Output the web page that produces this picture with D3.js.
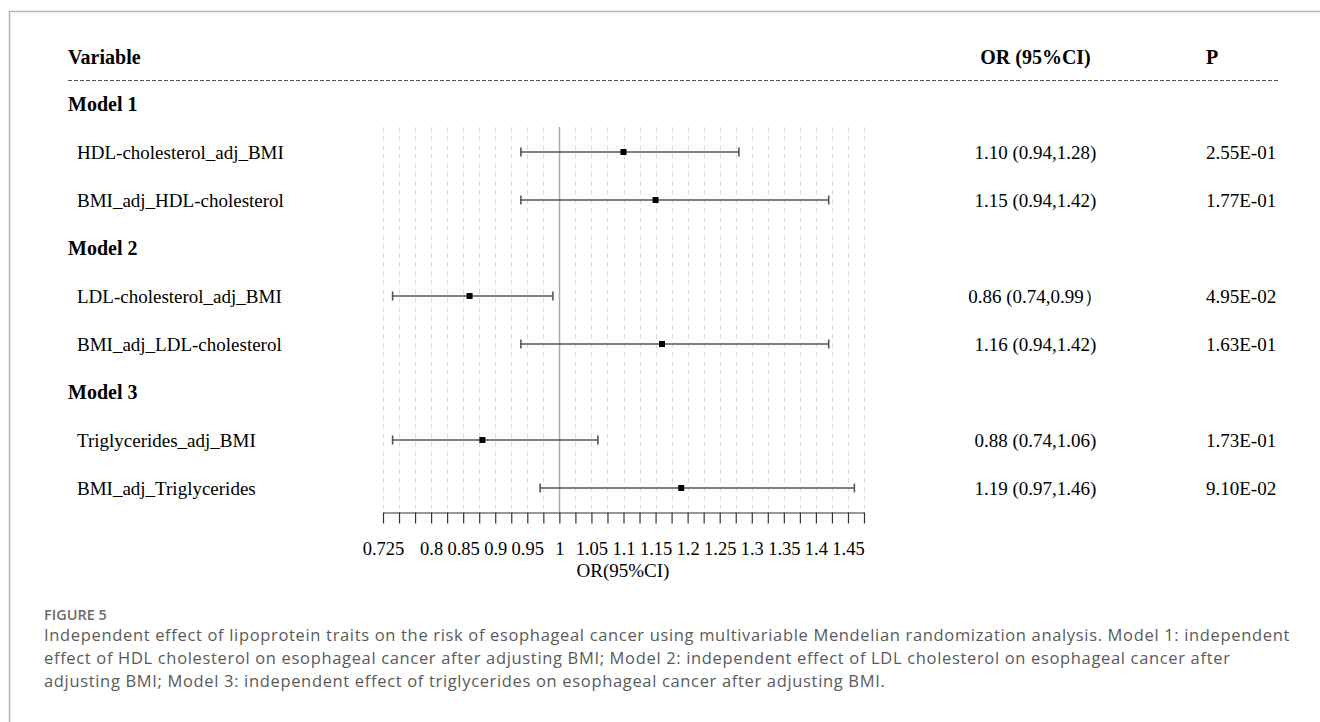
<!DOCTYPE html>
<html>
<head>
<meta charset="utf-8">
<script src="https://cdn.jsdelivr.net/npm/d3@7"></script>
<style>
  html, body { margin: 0; padding: 0; background: #fff; }
  svg { display: block; }
</style>
</head>
<body>
<svg id="chart" width="1320" height="722"></svg>
<script>
// Forest plot data: three models, two exposures each
const models = ["Model 1", "Model 2", "Model 3"];
const variables = [
  "HDL-cholesterol_adj_BMI", "BMI_adj_HDL-cholesterol",
  "LDL-cholesterol_adj_BMI", "BMI_adj_LDL-cholesterol",
  "Triglycerides_adj_BMI", "BMI_adj_Triglycerides"
];
const modelOf = [0, 0, 1, 1, 2, 2];
const oddsRatio = [1.10, 1.15, 0.86, 1.16, 0.88, 1.19];
const lowerCI   = [0.94, 0.94, 0.74, 0.94, 0.74, 0.97];
const upperCI   = [1.28, 1.42, 0.99, 1.42, 1.06, 1.46];
const orText = [
  "1.10 (0.94,1.28)", "1.15 (0.94,1.42)",
  "0.86 (0.74,0.99\uFF09", "1.16 (0.94,1.42)",
  "0.88 (0.74,1.06)", "1.19 (0.97,1.46)"
];
const pText = ["2.55E-01", "1.77E-01", "4.95E-02", "1.63E-01", "1.73E-01", "9.10E-02"];

// Axis ticks every 0.025; only some carry a label
const tickValues = d3.range(0, 31).map(i => +(0.725 + i * 0.025).toFixed(3));
const tickLabels = ["0.725", "0.8", "0.85", "0.9", "0.95", "1", "1.05", "1.1",
  "1.15", "1.2", "1.25", "1.3", "1.35", "1.4", "1.45"];

const captionTitle = "FIGURE 5";
const captionLines = [
  "Independent effect of lipoprotein traits on the risk of esophageal cancer using multivariable Mendelian randomization analysis. Model 1: independent",
  "effect of HDL cholesterol on esophageal cancer after adjusting BMI; Model 2: independent effect of LDL cholesterol on esophageal cancer after",
  "adjusting BMI; Model 3: independent effect of triglycerides on esophageal cancer after adjusting BMI."
];

const serif = "'Liberation Serif', 'Times New Roman', serif";
const svg = d3.select("#chart");

// Page frame (top and left rules)
svg.append("path")
  .attr("d", "M9.5,722 V11.5 H1320")
  .attr("fill", "none").attr("stroke", "#b4b4b4").attr("stroke-width", 1.5);

// Build the row list: a model heading followed by its variables
const rows = [];
models.forEach((m, mi) => {
  rows.push({ kind: "model", text: m });
  variables.forEach((v, i) => { if (modelOf[i] === mi) rows.push({ kind: "var", i }); });
});

const y = d3.scalePoint().domain(d3.range(rows.length)).range([104, 488]);
const x = d3.scaleLinear().domain([0.725, 1.475]).range([383, 864]);

const colOR = 1035.5, colP = 1206;

// Header
const header = svg.append("g").attr("font-family", serif).attr("font-weight", "bold")
  .attr("font-size", 20).attr("fill", "#000");
header.append("text").attr("x", 68).attr("y", 64).text("Variable");
header.append("text").attr("x", colOR).attr("y", 64).attr("text-anchor", "middle").text("OR (95%CI)");
header.append("text").attr("x", colP).attr("y", 64).text("P");

svg.append("line")
  .attr("x1", 68).attr("x2", 1278).attr("y1", 80.5).attr("y2", 80.5)
  .attr("stroke", "#555").attr("stroke-width", 1).attr("stroke-dasharray", "4,2");

// Grid lines at every tick
const gridTop = 127, axisY = 512.5;
svg.append("g").selectAll("line").data(tickValues).join("line")
  .attr("x1", d => Math.round(x(d)) + 0.5).attr("x2", d => Math.round(x(d)) + 0.5)
  .attr("y1", gridTop).attr("y2", axisY - 4)
  .attr("stroke", "#dcdcdc").attr("stroke-width", 1).attr("stroke-dasharray", "5,4");

// Reference line at OR = 1
svg.append("line")
  .attr("x1", Math.round(x(1)) + 0.5).attr("x2", Math.round(x(1)) + 0.5)
  .attr("y1", gridTop).attr("y2", axisY)
  .attr("stroke", "#a8a8a8").attr("stroke-width", 1.5);

// Row texts
const rowG = svg.append("g").attr("font-family", serif).attr("fill", "#000");
rows.forEach((r, k) => {
  const cy = y(k);
  if (r.kind === "model") {
    rowG.append("text").attr("x", 68).attr("y", cy + 7)
      .attr("font-size", 20).attr("font-weight", "bold").text(r.text);
  } else {
    rowG.append("text").attr("x", 77).attr("y", cy + 6.5).attr("font-size", 19).text(variables[r.i]);
    rowG.append("text").attr("x", colOR).attr("y", cy + 6.5).attr("font-size", 19)
      .attr("text-anchor", "middle").text(orText[r.i]);
    rowG.append("text").attr("x", colP).attr("y", cy + 6.5).attr("font-size", 19).text(pText[r.i]);
  }
});

// Confidence intervals and point estimates
const ciRows = rows.map((r, k) => ({ ...r, k })).filter(r => r.kind === "var");
const ci = svg.append("g");
ci.selectAll("line.ci").data(ciRows).join("line").attr("class", "ci")
  .attr("x1", d => x(lowerCI[d.i])).attr("x2", d => x(upperCI[d.i]))
  .attr("y1", d => y(d.k)).attr("y2", d => y(d.k))
  .attr("stroke", "#555").attr("stroke-width", 1.6);
ci.selectAll("line.capl").data(ciRows).join("line").attr("class", "capl")
  .attr("x1", d => x(lowerCI[d.i])).attr("x2", d => x(lowerCI[d.i]))
  .attr("y1", d => y(d.k) - 4.5).attr("y2", d => y(d.k) + 4.5)
  .attr("stroke", "#555").attr("stroke-width", 1.6);
ci.selectAll("line.capr").data(ciRows).join("line").attr("class", "capr")
  .attr("x1", d => x(upperCI[d.i])).attr("x2", d => x(upperCI[d.i]))
  .attr("y1", d => y(d.k) - 4.5).attr("y2", d => y(d.k) + 4.5)
  .attr("stroke", "#555").attr("stroke-width", 1.6);
ci.selectAll("rect").data(ciRows).join("rect")
  .attr("x", d => x(oddsRatio[d.i]) - 3).attr("y", d => y(d.k) - 3)
  .attr("width", 6).attr("height", 6).attr("fill", "#000");

// X axis
const labelFor = v => tickLabels.find(t => Math.abs(+t - v) < 1e-6) || "";
const axis = d3.axisBottom(x).tickValues(tickValues).tickSize(11).tickSizeOuter(0)
  .tickPadding(18).tickFormat(labelFor);
const ax = svg.append("g").attr("transform", `translate(0,${axisY})`).call(axis);
ax.select(".domain").attr("stroke", "#333").attr("stroke-width", 1.2);
ax.selectAll(".tick line").attr("stroke", "#333").attr("stroke-width", 1.2);
ax.selectAll(".tick text").attr("font-family", serif).attr("font-size", 18.5).attr("fill", "#000");

svg.append("text").attr("x", x(1.1) - 0.5).attr("y", 577).attr("text-anchor", "middle")
  .attr("font-family", serif).attr("font-size", 19).attr("fill", "#000").text("OR(95%CI)");

// Caption: letter-spacing widens the first line to span the text column
const sans = "'Open Sans', 'Noto Sans', sans-serif";
svg.append("text").attr("x", 44).attr("y", 620)
  .attr("font-family", sans).attr("font-size", 14.5).attr("font-weight", 600)
  .attr("fill", "#6b6b6b").text(captionTitle);
const capSize = 16.5;
const cap = svg.append("g").attr("font-family", sans).attr("fill", "#5a5a5a");
const capText = cap.selectAll("text").data(captionLines).join("text")
  .attr("x", 44).attr("y", (d, i) => 641 + i * 23)
  .attr("font-size", capSize).text(d => d);
const firstWidth = capText.node().getComputedTextLength();
const spacing = (1246 - firstWidth) / captionLines[0].length;
capText.attr("letter-spacing", spacing.toFixed(3) + "px");
</script>
</body>
</html>
